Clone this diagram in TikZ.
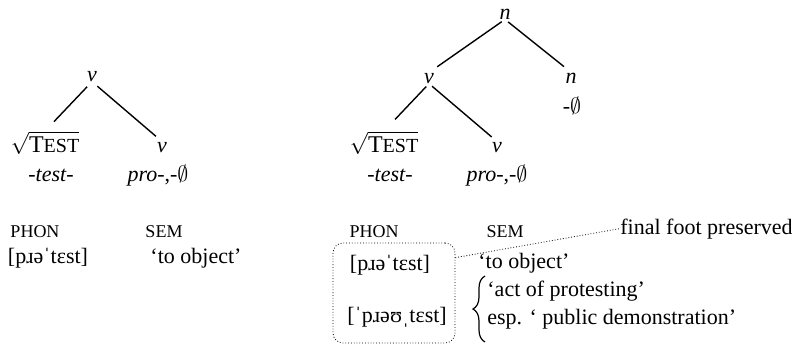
\documentclass[tikz,border=0pt]{standalone}
\usepackage{fontspec}
\setmainfont{Liberation Serif}
\usetikzlibrary{positioning,decorations.pathreplacing}

\newcommand{\smcap}[1]{{\fontsize{9}{10}\selectfont #1}}
\newcommand{\roottest}{$\sqrt{\mbox{{\fontsize{12}{13}\selectfont T}{\fontsize{10}{11}\selectfont EST}}}$}

\begin{document}
\begin{tikzpicture}[x=0.5pt,y=-0.5pt,
    font=\fontsize{11}{13}\selectfont,
% tree labels and text rows
    lab/.style={anchor=base,inner sep=0pt},
    gloss/.style={anchor=base west,inner sep=0pt},
    branch/.style={line width=0.7pt},
% the box round the two forms
    phonbox/.style={rectangle,rounded corners=5pt,densely dotted,draw,
		minimum width=61pt,minimum height=50pt}
    ]
   \useasboundingbox (0,0) rectangle (792,345);
%%% Left tree: the verb
   \node [lab] (lv)    at (92,81)   {\textit{v}};
   \node [lab] (lroot) at (45,152)  {\roottest};
   \node [lab] (lvv)   at (162,152) {\textit{v}};
   \node [lab] (ltest) at (51,181)  {\textit{-test-}};
   \node [lab] (lpro)  at (158,181) {\textit{pro-},-$\emptyset$};
   \draw [branch,shorten <=3.5pt,shorten >=6.5pt] (lv.south) -- (lroot.north);
   \draw [branch,shorten <=3.5pt,shorten >=4pt] (lv.south) -- (lvv.north);
   \node [lab] (lphon) at (35,237)  {\smcap{PHON}};
   \node [lab] (lsem)  at (164,237) {\smcap{SEM}};
   \node [lab] (lipa)  at (48,263)  {[pɹəˈtɛst]};
   \node [lab] (lgl)   at (196,263) {`to object'};

%%% Right tree: the noun
   \node [lab] (rn)    at (505,19)  {\textit{n}};
   \node [lab] (rv)    at (429,83)  {\textit{v}};
   \node [lab] (rnn)   at (571,83)  {\textit{n}};
   \node [lab] (rnull) at (572,113) {-$\emptyset$};
   \draw [branch,shorten <=2pt,shorten >=5pt] (rn.south) -- (rv.north);
   \draw [branch,shorten <=2pt,shorten >=4.5pt] (rn.south) -- (rnn.north);
   \node [lab] (rroot) at (384,152) {\roottest};
   \node [lab] (rvv)   at (497,152) {\textit{v}};
   \node [lab] (rtest) at (390,181) {\textit{-test-}};
   \node [lab] (rpro)  at (497,181) {\textit{pro-},-$\emptyset$};
   \draw [branch,shorten <=2pt,shorten >=8pt] (rv.south) -- (rroot.north);
   \draw [branch,shorten <=2pt,shorten >=3.5pt] (rv.south) -- (rvv.north);
   \node [lab] (rphon) at (374,237) {\smcap{PHON}};
   \node [lab] (rsem)  at (505,237) {\smcap{SEM}};
   \node [lab] (ripa1) at (390,270) {[pɹəˈtɛst]};
   \node [lab] (ripa2) at (397,322) {[ˈpɹəʊˌtɛst]};
   \node [phonbox] (pbox) at (394,293) {};
   \node [gloss] (note) at (620,234) {final foot preserved};
   \draw [densely dotted] ([yshift=-7.5pt]pbox.north east) -- (note.west);
   \node [gloss] (rg1) at (478,268) {`to object'};
   \node [gloss] (rg2) at (487,296) {`act of protesting'};
   \node [gloss] (rg3) at (487,324) {esp. ` public demonstration'};
   \coordinate (btop) at (485,276);
   \coordinate (bbot) at (485,342);
   \draw [line width=0.6pt,decorate,decoration={brace,amplitude=6pt}] (bbot) -- (btop);
\end{tikzpicture}
\end{document}
